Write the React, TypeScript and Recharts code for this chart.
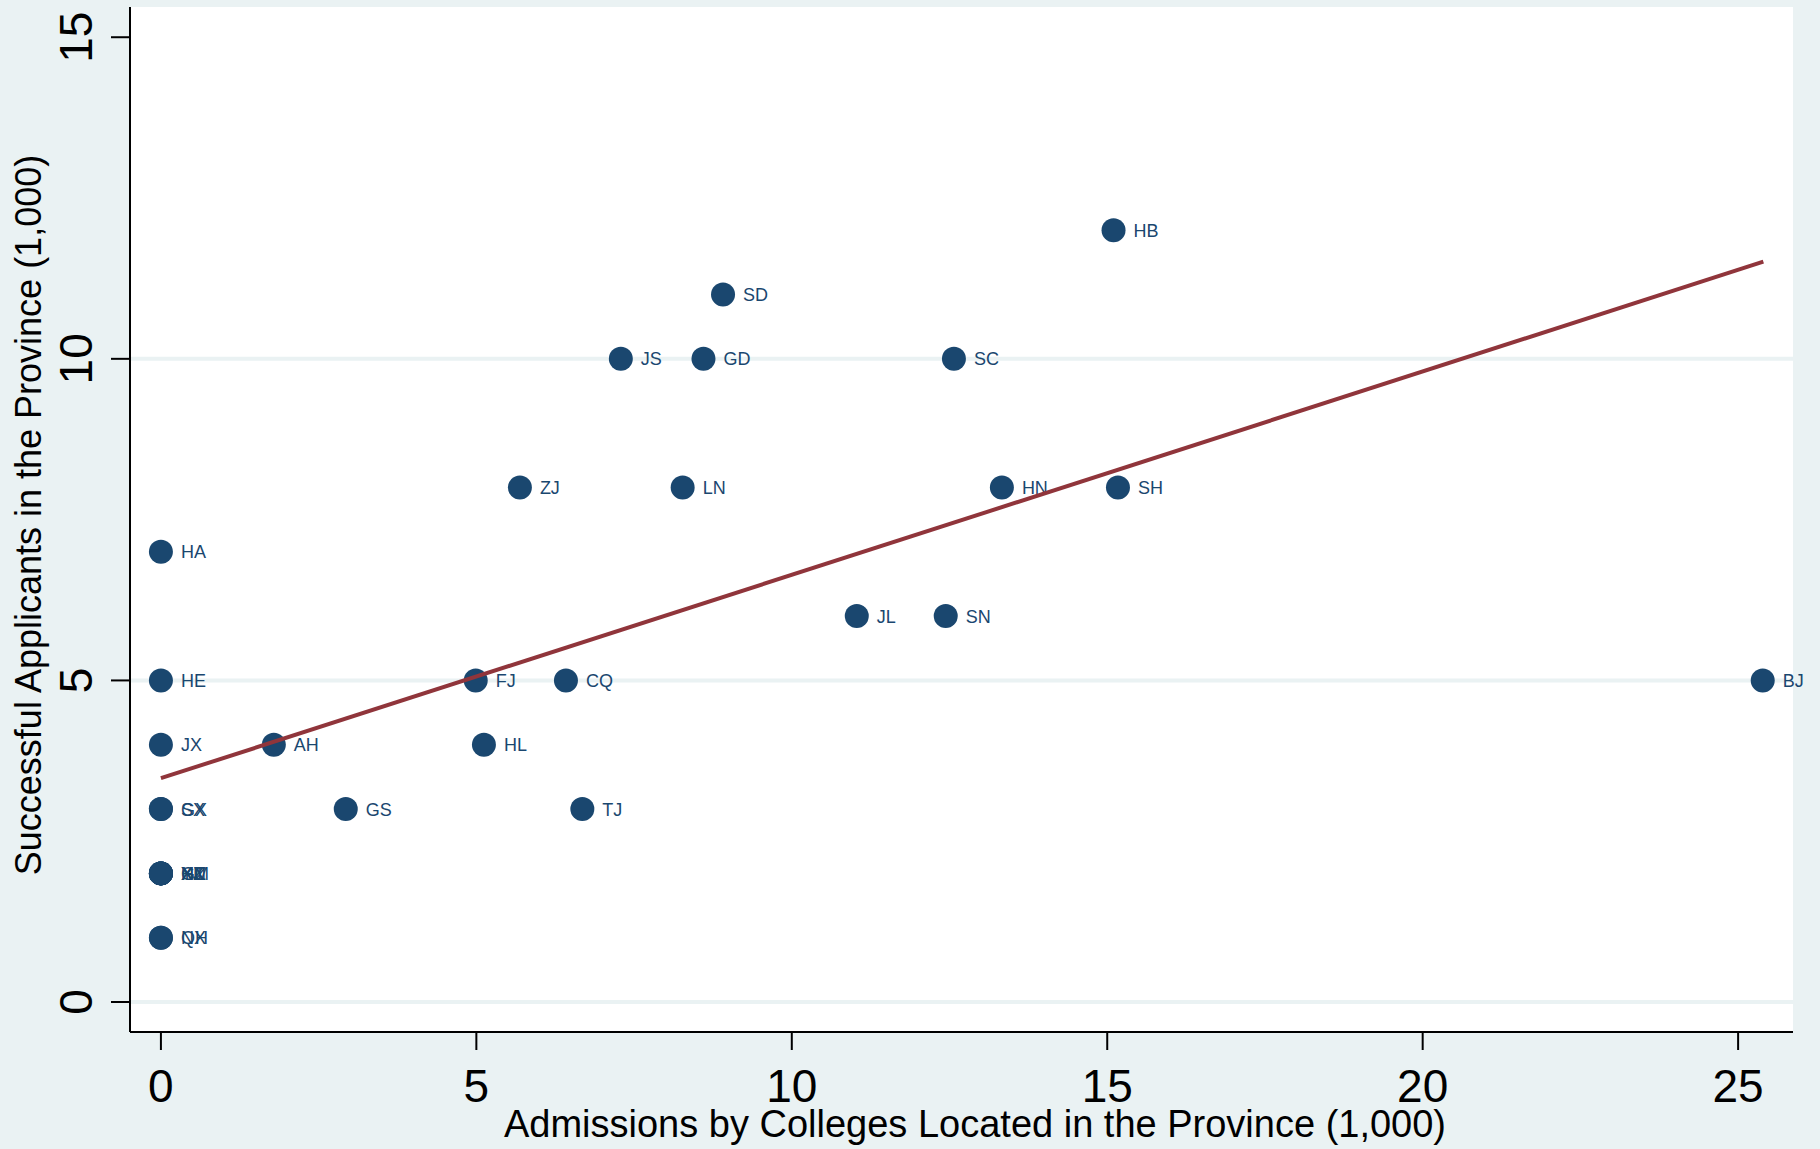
import React from 'react';
import { ScatterChart, Scatter, XAxis, YAxis, ReferenceLine, CartesianGrid, Label } from 'recharts';

const provinces = ['HB','SD','JS','GD','SC','ZJ','LN','HN','SH','HA','JL','SN','HE','FJ','CQ','BJ','JX','AH','HL','GS','TJ','GX','SX','XJ','NM','YN','GZ','HI','XZ','NX','QH'];
const admissions = [15.10,8.91,7.29,8.60,12.57,5.69,8.27,13.33,15.17,0,11.03,12.44,0,4.99,6.42,25.39,0,1.79,5.12,2.93,6.68,0,0,0,0,0,0,0,0,0,0];
const applicants = [12,11,10,10,10,8,8,8,8,7,6,6,5,5,5,5,4,4,4,3,3,3,3,2,2,2,2,2,2,1,1];

const fitX = [0, 25.4];
const fitY = [3.48, 11.51];

const xTicks = [0, 5, 10, 15, 20, 25];
const yTicks = [0, 5, 10, 15];
const gridY = [0, 5, 10];

const xTitle = 'Admissions by Colleges Located in the Province (1,000)';
const yTitle = 'Successful Applicants in the Province (1,000)';

const points = provinces.map((n, i) => ({ name: n, x: admissions[i], y: applicants[i] }));
const fitData = fitX.map((x, i) => ({ x, y: fitY[i] }));

const BG = '#eaf2f3';
const NAVY = '#1a476f';
const RED = '#90353b';
const FONT = '"Liberation Sans", Arial, Helvetica, sans-serif';

const PointShape = (props: any) => {
  const { cx, cy, payload } = props;
  return (
    <g>
      <circle cx={cx} cy={cy} r={12} fill={NAVY} />
      <text x={cx + 20} y={cy + 6.5} fontSize={18} fill={NAVY} fontFamily={FONT}>{payload.name}</text>
    </g>
  );
};

const YTick = (props: any) => {
  const { y, payload } = props;
  const x = 92;
  return (
    <text x={x} y={y} transform={`rotate(-90, ${x}, ${y})`} textAnchor="middle" fontSize={46} fill="#000" fontFamily={FONT}>
      {payload.value}
    </text>
  );
};

const XTick = (props: any) => {
  const { x, payload } = props;
  return (
    <text x={x} y={1102} textAnchor="middle" fontSize={46} fill="#000" fontFamily={FONT}>
      {payload.value}
    </text>
  );
};

export default function App() {
  return (
    <div style={{ position: 'absolute', left: 0, top: 0, width: 1820, height: 1149, background: BG }}>
      <ScatterChart width={1820} height={1149} margin={{ top: 7, right: 27, left: 0, bottom: 0 }}>
        <CartesianGrid fill="#ffffff" horizontal={false} vertical={false} />
        <XAxis
          type="number"
          dataKey="x"
          domain={[-0.49, 25.87]}
          ticks={xTicks}
          height={117}
          tickSize={18}
          tickMargin={2}
          axisLine={{ stroke: '#000', strokeWidth: 2 }}
          tickLine={{ stroke: '#000', strokeWidth: 2 }}
          tick={<XTick />}
          interval={0}
        >
          <Label content={() => (
            <text x={975} y={1137} textAnchor="middle" fontSize={38} fill="#000" fontFamily={FONT}>{xTitle}</text>
          )} />
        </XAxis>
        <YAxis
          type="number"
          dataKey="y"
          domain={[-0.466, 15.47]}
          ticks={yTicks}
          width={130}
          tickSize={19}
          tickMargin={2}
          axisLine={{ stroke: '#000', strokeWidth: 2 }}
          tickLine={{ stroke: '#000', strokeWidth: 2 }}
          tick={<YTick />}
          interval={0}
        >
          <Label content={() => (
            <text x={41} y={515} transform="rotate(-90, 41, 515)" textAnchor="middle" fontSize={36} fill="#000" fontFamily={FONT}>{yTitle}</text>
          )} />
        </YAxis>
        {gridY.map((v) => (
          <ReferenceLine key={v} y={v} stroke={BG} strokeWidth={4} />
        ))}
        <Scatter data={points} shape={<PointShape />} isAnimationActive={false} />
        <Scatter
          data={fitData}
          line={{ stroke: RED, strokeWidth: 4 }}
          shape={() => <g />}
          isAnimationActive={false}
          legendType="none"
        />
      </ScatterChart>
    </div>
  );
}
